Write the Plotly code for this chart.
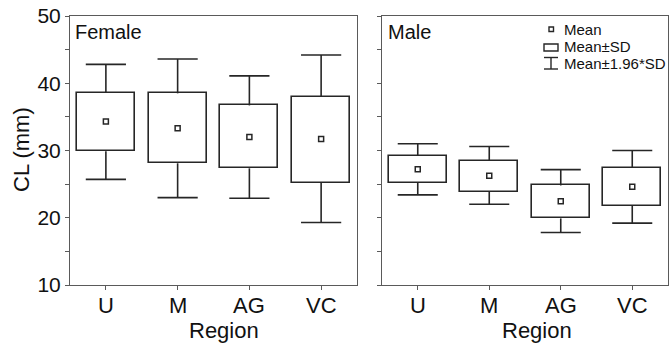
import plotly.graph_objects as go
from plotly.subplots import make_subplots

regions = ["U", "M", "AG", "VC"]

# Female
f_mean = [34.3, 33.3, 32.0, 31.7]
f_sd_lo = [29.9, 28.1, 27.35, 25.2]
f_sd_hi = [38.6, 38.5, 36.7, 38.0]
f_ci_lo = [25.7, 23.0, 22.9, 19.3]
f_ci_hi = [42.8, 43.6, 41.1, 44.2]

# Male
m_mean = [27.2, 26.25, 22.45, 24.6]
m_sd_lo = [25.2, 23.9, 19.9, 21.8]
m_sd_hi = [29.2, 28.5, 24.8, 27.45]
m_ci_lo = [23.4, 22.0, 17.8, 19.2]
m_ci_hi = [31.0, 30.6, 27.15, 30.0]

y_tickvals = [10, 15, 20, 25, 30, 35, 40, 45, 50]
y_ticktext = ["10", "", "20", "", "30", "", "40", "", "50"]

LINE = "#262626"
AX = "#5a5a5a"
FONT = "Liberation Sans, Arial, sans-serif"
W, H = 669, 347
CAP = 0.28
BOXW = 0.81

fig = make_subplots(rows=1, cols=2, shared_yaxes=False)


def add_panel(col, mean, sd_lo, sd_hi, ci_lo, ci_hi):
    xs = list(range(len(regions)))
    wx, wy = [], []
    for i in xs:
        wx += [i, i, None, i - CAP, i + CAP, None]
        wy += [sd_hi[i], ci_hi[i], None, ci_hi[i], ci_hi[i], None]
        wx += [i, i, None, i - CAP, i + CAP, None]
        wy += [sd_lo[i], ci_lo[i], None, ci_lo[i], ci_lo[i], None]
    fig.add_trace(go.Bar(
        x=xs, y=[h - l for h, l in zip(sd_hi, sd_lo)], base=sd_lo,
        width=BOXW, marker=dict(color="white", line=dict(color=LINE, width=1.6)),
        showlegend=False, hoverinfo="skip"), row=1, col=col)
    fig.add_trace(go.Scatter(
        x=wx, y=wy, mode="lines", line=dict(color=LINE, width=1.6),
        showlegend=False, hoverinfo="skip", connectgaps=False), row=1, col=col)
    fig.add_trace(go.Scatter(
        x=xs, y=mean, mode="markers",
        marker=dict(symbol="square", size=5, color="white",
                    line=dict(color=LINE, width=1.5)),
        showlegend=False, hoverinfo="skip"), row=1, col=col)


add_panel(1, f_mean, f_sd_lo, f_sd_hi, f_ci_lo, f_ci_hi)
add_panel(2, m_mean, m_sd_lo, m_sd_hi, m_ci_lo, m_ci_hi)

x1 = [70 / W, 357 / W]
x2 = [382 / W, 668 / W]

axis_common = dict(showline=True, linecolor=AX, linewidth=1, mirror=True,
                   ticks="outside", ticklen=4, tickcolor=AX, showgrid=False,
                   zeroline=False)

fig.update_xaxes(**axis_common, range=[-0.5, 3.5],
                 tickvals=list(range(len(regions))), showticklabels=False)
fig.update_yaxes(**axis_common, range=[10, 50], tickvals=y_tickvals,
                 ticktext=y_ticktext, tickfont=dict(size=21, color="#111", family=FONT))
fig.update_layout(
    xaxis=dict(domain=x1), xaxis2=dict(domain=x2),
    yaxis=dict(domain=[0, 1]),
    yaxis2=dict(domain=[0, 1], showticklabels=False),
    width=W, height=H, margin=dict(l=0, r=0, t=16, b=62),
    plot_bgcolor="white", paper_bgcolor="white",
    barmode="overlay", bargap=0,
    font=dict(family=FONT, color="#111"),
)


def py(p):  # pixel y -> paper
    return (285 - p) / 269


ann = []
# x tick labels, placed on the category positions of each x axis
for xr in ["x", "x2"]:
    for i, r in enumerate(regions):
        ann.append(dict(text=r, x=i, y=py(305), xref=xr, yref="paper",
                        showarrow=False, font=dict(size=22, family=FONT, color="#111"),
                        xanchor="center", yanchor="middle"))
ann.append(dict(text="CL (mm)", x=21 / W, y=py(150), xref="paper", yref="paper",
                textangle=-90, showarrow=False, font=dict(size=22, family=FONT),
                xanchor="center", yanchor="middle"))
for cx in [224 / W, 537 / W]:
    ann.append(dict(text="Region", x=cx, y=py(331), xref="paper", yref="paper",
                    showarrow=False, font=dict(size=22, family=FONT),
                    xanchor="center", yanchor="middle"))
ann.append(dict(text="Female", x=73 / W, y=py(31.5), xref="paper", yref="paper",
                showarrow=False, font=dict(size=20, family=FONT),
                xanchor="left", yanchor="middle"))
ann.append(dict(text="Male", x=386 / W, y=py(31.5), xref="paper", yref="paper",
                showarrow=False, font=dict(size=20, family=FONT),
                xanchor="left", yanchor="middle"))

legend_items = [("Mean", 29), ("Mean\u00b1SD", 46.5), ("Mean\u00b11.96*SD", 63)]
for t, yy in legend_items:
    ann.append(dict(text=t, x=562 / W, y=py(yy), xref="paper", yref="paper",
                    showarrow=False, font=dict(size=15, family=FONT),
                    xanchor="left", yanchor="middle"))

shapes = []
shapes.append(dict(type="rect", xref="paper", yref="paper",
                   x0=549 / W, x1=553.5 / W, y0=py(31.5), y1=py(27),
                   line=dict(color=LINE, width=1.4), fillcolor="white"))
shapes.append(dict(type="rect", xref="paper", yref="paper",
                   x0=544 / W, x1=558 / W, y0=py(51), y1=py(44),
                   line=dict(color=LINE, width=1.4), fillcolor="white"))
shapes.append(dict(type="line", xref="paper", yref="paper",
                   x0=544 / W, x1=558 / W, y0=py(57.5), y1=py(57.5),
                   line=dict(color=LINE, width=1.4)))
shapes.append(dict(type="line", xref="paper", yref="paper",
                   x0=544 / W, x1=558 / W, y0=py(69), y1=py(69),
                   line=dict(color=LINE, width=1.4)))
shapes.append(dict(type="line", xref="paper", yref="paper",
                   x0=551 / W, x1=551 / W, y0=py(57.5), y1=py(69),
                   line=dict(color=LINE, width=1.4)))

fig.update_layout(annotations=ann, shapes=shapes)

fig.write_html("out.html")
